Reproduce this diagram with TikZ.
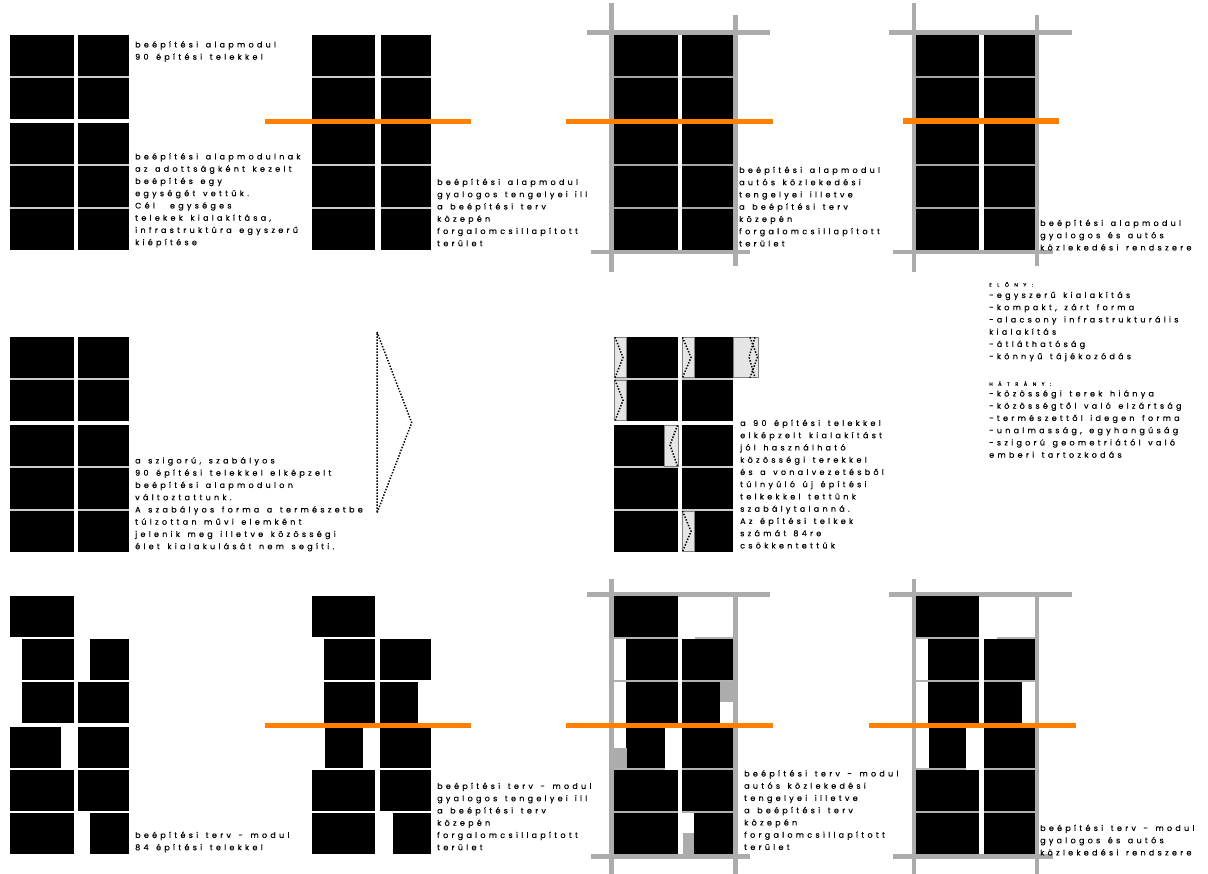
\documentclass[tikz,border=0pt]{standalone}
\usepackage{fontspec}
\newfontfamily\labelfont[LetterSpace=41,WordSpace=1.4,FakeBold=0.5]{Poppins}
\newfontfamily\headfont[LetterSpace=110,FakeBold=0.5]{Poppins}
\definecolor{axisorange}{RGB}{255,128,0}
\tikzset{
  plot/.style={fill=black},
  gap/.style={fill=gray!60},
  road/.style={fill=gray!65},
  axis/.style={fill=axisorange},
  spare/.style={fill=gray!20,draw=gray,line width=0.7pt},
  dots/.style={line width=1.5pt,dash pattern=on 1.4pt off 1.6pt},
  label/.style={anchor=north west,inner sep=0,align=left,font=\labelfont\fontsize{8}{12.25}\selectfont},
  head/.style={anchor=north west,inner sep=0,font=\headfont\fontsize{5}{6}\selectfont}
}
\begin{document}
\begin{tikzpicture}[x=1pt,y=-1pt]
  \useasboundingbox (0,0) rectangle (1208,874);
  % alapmodul, with its gaps
  \foreach \xa/\xb/\xc/\xd/\dy/\gapcol in {9.5/73.5/77.5/129/0/gray!40,312/375/381/431/0/gray!40,614/678/682/733/0/gray!70,916/979.4/984.4/1035/0/gray!70,9.5/73.5/77.5/129/302/gray!40,614/678/682/733/302/gray!40}{
    \foreach \ya/\yb in {35/76,78/119,123/164,166/207,209/250}{
      \fill[plot] (\xa,\ya+\dy) rectangle (\xb,\yb+\dy);
      \fill[plot] (\xc,\ya+\dy) rectangle (\xd,\yb+\dy);
    }
    \foreach \ya in {76,164,207}{
      \fill[fill=\gapcol] (\xa,\ya+\dy) rectangle (\xb,\ya+2+\dy);
      \fill[fill=\gapcol] (\xc,\ya+\dy) rectangle (\xd,\ya+2+\dy);
    }
  }
  % roads
  \foreach \xa/\xb/\xc/\xd/\xe/\xf/\xg/\xh in {587/769.5/591/750/609/614/732.7/737.7,888.5/1072/893/1052.5/911.5/916/1034.8/1039.3}{
    \fill[road] (\xa,30.5) rectangle (\xb,35);
    \fill[road] (\xc,250) rectangle (\xd,254.5);
    \fill[road] (\xe,3) rectangle (\xf,272);
    \fill[road] (\xg,15) rectangle (\xh,266);
    \fill[road] (\xa,591.7) rectangle (\xb,596.5);
    \fill[road] (\xc,853.7) rectangle (\xd,858.7);
    \fill[road] (\xe,579) rectangle (\xf,874);
    \fill[road] (\xg,591.7) rectangle (\xh,874);
    \fill[road] (\xf,119) rectangle (\xg,123);
  }
  % terv modul
  \foreach \xa/\xb/\ya/\yb in {
    9.5/73.5/596/637,22/73.5/639/680,90/129/639/680,22/73.5/682/723,77.5/129/682/723,
    9.5/61/727.3/768.3,77.5/129/727.3/768.3,9.5/73.5/770/811,77.5/129/770/811,9.5/73.5/812.7/854,90/129/812.7/854,
    312/375/596/637,324/375/639/680,380/431/639/680,324/375/682/723,380/418/682/723,
    325/362.7/727.3/768.3,380/431/727.3/768.3,312/375/770/811,380/431/770/811,312/375/812.7/854,392.7/431/812.7/854,
    614/677.8/596/637,626/677.8/639/680,682/732.7/639/680,626/677.8/682/723,682/720.3/682/723,
    626.3/665/727.3/768.3,682/732.7/727.3/768.3,614/677.8/770/811,682/732.7/770/811,614/677.8/812.7/854,694.3/732.7/812.7/854,
    916/979.4/596/637,928/979.4/639/680,984.4/1034.8/639/680,928/979.4/682/723,984.4/1022/682/723,
    929/966/727.3/768.3,984.4/1034.8/727.3/768.3,916/979.4/770/811,984.4/1034.8/770/811,916/979.4/812.7/854,984.4/1034.8/812.7/854}{
    \fill[plot] (\xa,\ya) rectangle (\xb,\yb);
  }
  \foreach \xa/\xb/\ya in {
    614/677.8/637,695/732.7/637,614/677.8/680,682/732.7/680,614/665/768,682/732.7/768,614/677.8/811,682/732.7/811,
    916/979.4/637,997/1034.8/637,916/979.4/680,984.4/1034.8/680,916/966/768,984.4/1034.8/768,916/979.4/811,984.4/1034.8/811}{
    \fill[gap] (\xa,\ya) rectangle (\xb,\ya+2);
  }
  \fill[road] (720.3,682) rectangle (733,702.3);
  \fill[road] (614,748.3) rectangle (626.5,768);
  \fill[road] (682.7,833) rectangle (694.3,854);
  % tengelyek
  \foreach \xa/\xb/\ya/\yb in {264.5/471/118.7/123.6,566/772.8/118.7/123.6,903/1058.8/118/124,
    264.5/471/722.7/727.7,566/772.8/722.7/727.7,869/1075.7/722.7/727.7}{
    \fill[axis] (\xa,\ya) rectangle (\xb,\yb);
  }
  % kozossegi terek
  \foreach \xa/\xb/\xc/\ya/\yb in {614.5/626.3/623/337.3/377.7,682/694.3/691/337.3/377.7,614.5/626.3/623/380/420.7,682/694.3/691/511/551.7}{
    \draw[spare] (\xa,\ya) rectangle (\xb,\yb);
    \draw[dots] (\xa+0.5,\ya) -- (\xc,\ya/2+\yb/2) -- (\xa+0.5,\yb);
  }
  \draw[spare] (664.7,425.3) rectangle (678,466);
  \draw[dots] (677.5,425.3) -- (670,445) -- (677.5,466);
  \draw[spare] (733,337.3) rectangle (758,377.7);
  \draw[dots] (750,337.3) -- (757.5,357) -- (750,377.7);
  \draw[dots] (755,337.3) -- (749,357) -- (755,377.7);
  \draw[dots] (377,332) -- (411.7,422.7) -- (377,513) -- cycle;
  % szovegek
  \node[label] (alap) at (135,41) {beépítési alapmodul\\90 építési telekkel};
  \node[label] (adott) at (135,153) {beépítési alapmodulnak\\az adottságként kezelt\\beépítés egy\\egységét vettük.\\Cél\ \ egységes\\telekek kialakítása,\\infrastruktúra egyszerű\\kiépítése};
  \node[label] (gyalog) at (437,178.5) {beépítési alapmodul\\gyalogos tengelyei\hspace{7pt}ill\\a beépítési terv\\közepén\\forgalomcsillapított\\terület};
  \node[label] (auto) at (739,166.5) {beépítési alapmodul\\autós közlekedési\\tengelyei illetve\\a beépítési terv\\közepén\\forgalomcsillapított\\terület};
  \node[label] (rend) at (1040,219.5) {beépítési alapmodul\\gyalogos és autós\\közlekedési rendszere};
  \node[head] (elony) at (989,282) {ELŐNY:};
  \node[label] (elonyt) at (989,291.5) {-egyszerű kialakítás\\-kompakt, zárt forma\\-alacsony infrastrukturális\\kialakítás\\-átláthatóság\\-könnyű tájékozódás};
  \node[head] (hatrany) at (989,381) {HÁTRÁNY:};
  \node[label] (hatranyt) at (989,390) {-közösségi terek hiánya\\-közösségtől való elzártság\\-természettől idegen forma\\-unalmasság, egyhangúság\\-szigorú geometriától való\\emberi tartozkodás};
  \node[label] (szigoru) at (135,457) {a szigorú, szabályos\\90 építési telekkel elképzelt\\beépítési alapmodulon\\változtattunk.\\A szabályos forma a természetbe\\túlzottan művi elemként\\jelenik meg illetve közösségi\\élet kialakulását nem segíti.};
  \node[label] (terek) at (740,419.5) {a 90 építési telekkel\\elképzelt kialakítást\\jól használható\\közösségi terekkel\\és a vonalvezetésből\\túlnyúló új építési\\telkekkel tettünk\\szabálytalanná.\\Az építési telkek\\számát\hspace{7pt}84re\\csökkentettük};
  \node[label] (terv) at (135,831.5) {beépítési terv - modul\\84 építési telekkel};
  \node[label] (tervgy) at (437,782.5) {beépítési terv - modul\\gyalogos tengelyei\hspace{7pt}ill\\a beépítési terv\\közepén\\forgalomcsillapított\\terület};
  \node[label] (terva) at (744,770) {beépítési terv - modul\\autós közlekedési\\tengelyei illetve\\a beépítési terv\\közepén\\forgalomcsillapított\\terület};
  \node[label] (tervr) at (1040,824.5) {beépítési terv - modul\\gyalogos és autós\\közlekedési rendszere};
\end{tikzpicture}
\end{document}
